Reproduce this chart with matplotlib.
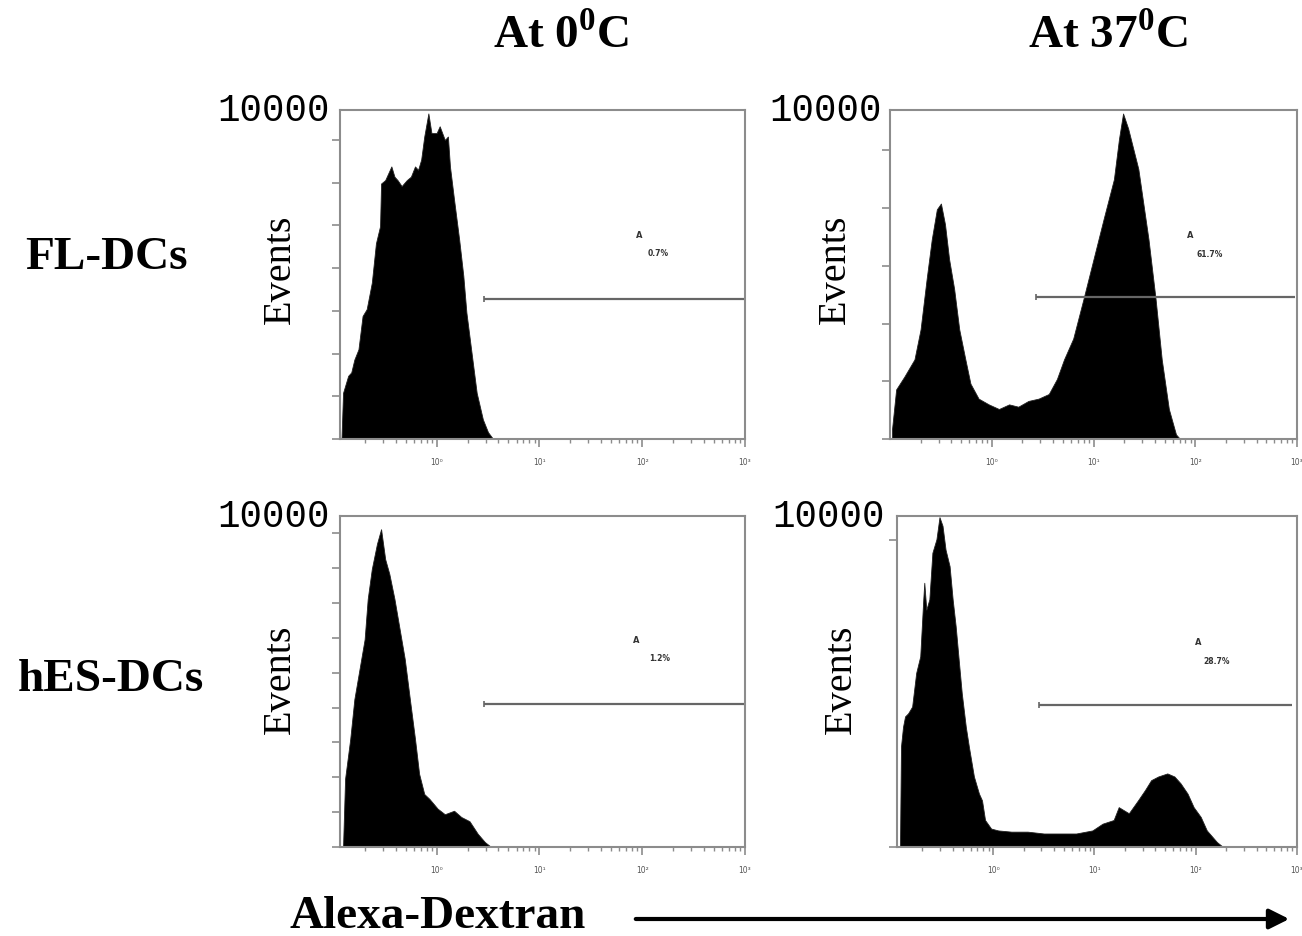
import matplotlib.pyplot as plt
import numpy as np

plt.rcParams['mathtext.fontset'] = 'custom'
plt.rcParams['mathtext.rm'] = 'Liberation Serif'
plt.rcParams['mathtext.bf'] = 'Liberation Serif:bold'

# histogram outlines: log10 intensity, events
fl0_lx = [-0.925, -0.91, -0.86, -0.83, -0.80, -0.76, -0.72, -0.68, -0.63, -0.59,
          -0.55, -0.54, -0.50, -0.47, -0.44, -0.41, -0.38, -0.34, -0.29, -0.25,
          -0.21, -0.18, -0.15, -0.12, -0.08, -0.05, 0.00, 0.03, 0.08, 0.11,
          0.13, 0.17, 0.22, 0.26, 0.29, 0.34, 0.39, 0.45, 0.50, 0.55]
fl0_ev = [0, 54, 74, 78, 93, 105, 144, 152, 183, 229,
          249, 299, 303, 311, 319, 307, 303, 296, 303, 307,
          319, 315, 327, 354, 381, 358, 358, 366, 350, 354,
          319, 280, 233, 191, 148, 101, 54, 23, 8, 0]

fl37_lx = [-0.98, -0.94, -0.86, -0.76, -0.70, -0.64, -0.59, -0.54, -0.50, -0.46,
           -0.42, -0.37, -0.32, -0.26, -0.21, -0.13, -0.03, 0.07, 0.17, 0.26,
           0.36, 0.46, 0.56, 0.64, 0.71, 0.80, 0.90, 1.00, 1.10, 1.20,
           1.25, 1.29, 1.34, 1.44, 1.54, 1.61, 1.67, 1.74, 1.81, 1.85]
fl37_ev = [9, 43, 54, 69, 95, 139, 173, 199, 204, 186,
           156, 130, 95, 69, 48, 35, 30, 26, 30, 28,
           33, 35, 39, 52, 69, 87, 121, 156, 191, 225,
           260, 282, 269, 234, 173, 121, 69, 26, 4, 0]

hes0_lx = [-0.91, -0.89, -0.84, -0.80, -0.75, -0.70, -0.67, -0.63, -0.58, -0.54,
           -0.50, -0.46, -0.41, -0.36, -0.31, -0.26, -0.21, -0.17, -0.12, -0.07,
           0.01, 0.08, 0.17, 0.24, 0.32, 0.40, 0.47, 0.53]
hes0_ev = [0, 98, 155, 212, 255, 298, 356, 399, 435, 456,
           413, 392, 356, 313, 270, 212, 155, 105, 76, 69,
           55, 47, 52, 43, 37, 19, 7, 0]

hes37_lx = [-0.92, -0.91, -0.89, -0.87, -0.84, -0.80, -0.76, -0.72, -0.69, -0.68,
            -0.66, -0.63, -0.60, -0.56, -0.53, -0.50, -0.47, -0.43, -0.40, -0.37,
            -0.34, -0.31, -0.27, -0.24, -0.19, -0.14, -0.11, -0.08, -0.02, 0.05,
            0.18, 0.34, 0.50, 0.66, 0.82, 0.98, 1.08, 1.19, 1.24, 1.34,
            1.43, 1.50, 1.56, 1.63, 1.72, 1.79, 1.85, 1.92, 1.98, 2.05,
            2.11, 2.21, 2.27]
hes37_ev = [0, 164, 196, 213, 218, 229, 284, 311, 404, 431,
            387, 404, 480, 502, 538, 524, 485, 458, 404, 360,
            305, 251, 196, 164, 115, 87, 76, 44, 30, 27,
            25, 25, 22, 22, 22, 27, 38, 44, 65, 55,
            76, 93, 109, 115, 120, 115, 104, 87, 65, 49,
            27, 8, 0]

# gate marker: start (log10), level (events), label
gate_lx = [0.46, 0.43, 0.46, 0.45]
gate_ev = [164, 123, 205, 232]
gate_pct = ['0.7%', '61.7%', '1.2%', '28.7%']

panels = [
    dict(lx=fl0_lx, ev=fl0_ev, rect=[0.2611, 0.5304, 0.3111, 0.3511],
         xlim=(-0.94, 2.99), ymax=385, ystep=50, ev_x=-0.148, ev_y=0.52,
         a_pos=(0.738, 0.623), p_pos=(0.785, 0.568), lab_x=-0.025),
    dict(lx=fl37_lx, ev=fl37_ev, rect=[0.6836, 0.5304, 0.3126, 0.3511],
         xlim=(-1.0, 2.98), ymax=285, ystep=50, ev_x=-0.135, ev_y=0.52,
         a_pos=(0.737, 0.623), p_pos=(0.786, 0.565), lab_x=-0.02),
    dict(lx=hes0_lx, ev=hes0_ev, rect=[0.2611, 0.0950, 0.3111, 0.3533],
         xlim=(-0.94, 2.99), ymax=475, ystep=50, ev_x=-0.148, ev_y=0.51,
         a_pos=(0.731, 0.628), p_pos=(0.79, 0.571), lab_x=-0.025),
    dict(lx=hes37_lx, ev=hes37_ev, rect=[0.6889, 0.0950, 0.3072, 0.3533],
         xlim=(-0.95, 2.95), ymax=540, ystep=500, ev_x=-0.14, ev_y=0.51,
         a_pos=(0.7525, 0.622), p_pos=(0.80, 0.562), lab_x=-0.03),
]

fig = plt.figure(figsize=(13.02, 9.37), dpi=100)
grey = '#8c8c8c'

for i, p in enumerate(panels):
    ax = fig.add_axes(p['rect'])
    x = 10 ** np.array(p['lx'])
    ax.fill_between(x, p['ev'], color='black', lw=0.6, edgecolor='#222222')
    ax.set_xscale('log')
    ax.set_xlim(10 ** p['xlim'][0], 10 ** p['xlim'][1])
    ax.set_ylim(0, p['ymax'])

    ax.set_xticks([1, 10, 100, 1000])
    ax.set_xticklabels(['10⁰', '10¹', '10²', '10³'], fontsize=5.5, color='#555555')
    ax.xaxis.set_minor_locator(plt.matplotlib.ticker.LogLocator(base=10, subs=np.arange(2, 10)))
    ax.xaxis.set_minor_formatter(plt.NullFormatter())
    ax.set_yticks(np.arange(0, p['ymax'] + 1, p['ystep']))
    ax.set_yticklabels([])
    ax.tick_params(axis='x', which='major', length=6, width=1.2, color=grey, pad=7)
    ax.tick_params(axis='x', which='minor', length=3, width=1.0, color=grey)
    ax.tick_params(axis='y', length=6, width=1.2, color=grey)
    for s in ax.spines.values():
        s.set_color(grey)
        s.set_linewidth(1.5)

    # gate
    gx0 = 10 ** gate_lx[i]
    ax.plot([gx0, 10 ** p['xlim'][1]], [gate_ev[i], gate_ev[i]], color='#666666',
            lw=1.6, solid_capstyle='butt')
    ax.plot([gx0], [gate_ev[i]], marker='|', ms=4, color='#666666', mew=1.2)
    ax.text(*p['a_pos'], 'A', transform=ax.transAxes, fontsize=6, fontweight='bold',
            color='#333333', ha='center', va='center')
    ax.text(*p['p_pos'], gate_pct[i], transform=ax.transAxes, fontsize=5.5,
            fontweight='bold', color='#333333', ha='center', va='center')

    ax.text(p['lab_x'], 1.0, '10000', transform=ax.transAxes, family='Liberation Mono',
            fontsize=27, ha='right', va='center')
    ax.text(p['ev_x'], p['ev_y'], 'Events', transform=ax.transAxes, family='Liberation Serif',
            fontsize=29, rotation=90, ha='center', va='center')

bold = dict(family='Liberation Serif', fontweight='bold', fontsize=34)
fig.text(0.431, 0.962, r'At 0$^{\mathbf{0}}$C', ha='center', va='center', **bold)
fig.text(0.851, 0.962, r'At 37$^{\mathbf{0}}$C', ha='center', va='center', **bold)
fig.text(0.082, 0.7247, 'FL-DCs', ha='center', va='center', **bold)
fig.text(0.085, 0.274, 'hES-DCs', ha='center', va='center', **bold)
fig.text(0.2227, 0.0213, 'Alexa-Dextran', ha='left', va='center', **bold)

fig.patches.append(plt.matplotlib.patches.FancyArrowPatch(
    (633 / 1302, 1 - 920 / 937), (1292 / 1302, 1 - 920 / 937),
    transform=fig.transFigure, arrowstyle='-|>,head_length=12,head_width=6',
    lw=3, color='black', mutation_scale=1))

fig.savefig('out.png', dpi=100)
